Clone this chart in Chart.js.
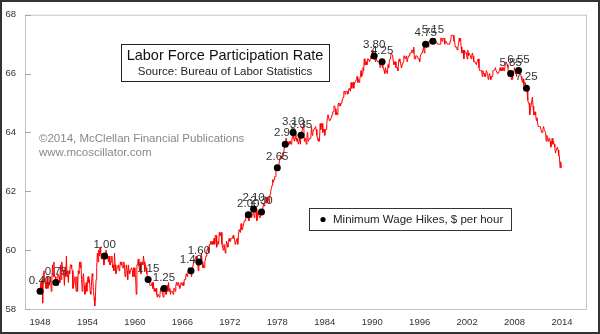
<!DOCTYPE html>
<html>
<head>
<meta charset="utf-8">
<script src="https://cdn.jsdelivr.net/npm/chart.js@4.4.0/dist/chart.umd.min.js"></script>
<style>
  html, body { margin: 0; padding: 0; background: #fff; }
</style>
</head>
<body>
<canvas id="lfprChart" width="600" height="334"></canvas>
<script>
// civilian labor force participation rate, monthly, Jan 1948 - Dec 2013
const startYear = 1948;
const lfpr = [
  58.6,58.9,58.5,59.0,58.2,59.2,59.3,58.9,58.9,58.7,58.7,59.1, // 1948
  58.7,58.9,58.8,58.8,59.1,58.6,59.0,59.5,59.1,59.6,59.1,59.1, // 1949
  58.9,58.9,58.8,59.2,59.1,59.1,58.9,59.5,59.0,59.6,59.4,59.3, // 1950
  59.2,58.8,59.4,59.1,59.8,59.1,59.3,58.9,59.3,59.2,59.5,59.5, // 1951
  59.4,59.3,58.7,58.8,59.0,59.1,58.8,58.6,59.1,58.6,59.3,59.2, // 1952
  59.6,59.4,59.6,59.0,58.6,59.1,59.2,58.8,58.5,58.6,58.9,58.6, // 1953
  59.0,59.1,58.9,59.0,58.6,58.5,58.8,59.2,59.1,58.6,58.4,58.1, // 1954
  58.4,59.0,59.4,59.9,59.6,60.0,59.8,60.1,59.9,59.7,59.9,59.8, // 1955
  59.7,59.5,59.8,59.7,60.0,59.9,59.8,59.7,59.6,59.8,59.5,59.6, // 1956
  59.6,59.8,59.4,59.5,59.3,59.9,59.5,59.2,59.3,59.4,59.4,59.5, // 1957
  59.3,59.4,59.6,59.5,59.6,59.4,59.4,59.6,59.5,59.1,59.2,59.5, // 1958
  59.3,59.0,59.5,59.3,59.2,59.3,59.3,59.4,59.3,59.1,59.4,59.4, // 1959
  59.1,59.1,58.5,59.5,59.5,59.7,59.5,59.3,59.6,59.2,59.5,59.6, // 1960
  59.5,59.8,59.6,59.3,59.5,59.4,59.2,59.1,59.0,59.0,58.9,58.8, // 1961
  58.8,58.8,58.9,58.7,58.9,58.6,58.7,58.6,58.7,58.5,58.4,58.5, // 1962
  58.5,58.4,58.5,58.7,58.7,58.7,58.5,58.4,58.7,58.6,58.8,58.5, // 1963
  58.5,58.8,58.6,58.9,58.6,58.7,58.5,58.6,58.6,58.6,58.5,58.7, // 1964
  58.7,58.6,58.8,58.9,58.8,58.9,58.9,58.8,58.7,58.8,58.9,58.9, // 1965
  58.8,58.9,58.8,59.0,59.0,59.1,59.2,59.1,59.2,59.3,59.4,59.3, // 1966
  59.3,59.3,59.1,59.3,59.3,59.6,59.6,59.7,59.7,59.8,59.6,59.7, // 1967
  59.3,59.6,59.6,59.7,59.8,59.9,59.6,59.4,59.5,59.4,59.6,59.7, // 1968
  59.8,60.0,60.0,60.1,59.9,60.2,60.2,60.3,60.2,60.3,60.2,60.2, // 1969
  60.4,60.2,60.5,60.5,60.1,60.2,60.3,60.2,60.6,60.5,60.5,60.6, // 1970
  60.2,60.1,60.0,60.2,60.1,59.9,60.1,60.3,60.2,60.1,60.3,60.4, // 1971
  60.3,60.3,60.4,60.4,60.4,60.5,60.4,60.4,60.2,60.3,60.3,60.4, // 1972
  60.2,60.5,60.7,60.7,60.6,60.9,60.7,60.7,60.8,60.8,61.0,61.0, // 1973
  61.1,61.2,61.1,61.1,61.2,61.0,61.3,61.2,61.3,61.1,61.2,61.3, // 1974
  61.4,61.1,61.2,61.3,61.4,61.0,61.2,61.3,61.2,61.1,61.1,61.1, // 1975
  61.3,61.2,61.2,61.6,61.5,61.6,61.8,61.8,61.6,61.6,61.8,61.8, // 1976
  61.6,61.9,62.0,62.1,62.2,62.4,62.3,62.4,62.5,62.5,62.8,62.8, // 1977
  62.8,62.7,62.8,63.0,63.0,63.2,63.2,63.1,63.3,63.3,63.4,63.5, // 1978
  63.6,63.8,63.8,63.5,63.5,63.6,63.7,63.6,63.7,63.6,63.7,63.9, // 1979
  64.0,63.8,63.7,63.8,64.0,63.7,63.8,63.7,63.6,63.7,63.8,63.6, // 1980
  63.9,63.9,64.1,64.2,64.3,63.7,63.8,63.8,63.6,63.9,64.0,63.7, // 1981
  63.7,63.8,63.8,63.9,64.2,63.9,64.0,64.1,64.1,64.1,64.2,64.1, // 1982
  63.9,63.8,63.7,63.8,63.7,64.3,64.1,64.3,64.3,64.0,64.1,64.1, // 1983
  63.9,64.1,64.1,64.3,64.5,64.6,64.6,64.4,64.4,64.4,64.5,64.6, // 1984
  64.7,64.7,64.9,64.9,64.8,64.6,64.7,64.6,64.9,65.0,64.9,65.0, // 1985
  64.9,65.0,65.1,65.1,65.2,65.4,65.4,65.3,65.4,65.4,65.4,65.3, // 1986
  65.4,65.5,65.5,65.4,65.7,65.5,65.6,65.7,65.5,65.7,65.7,65.7, // 1987
  65.8,65.9,65.7,65.8,65.7,65.8,65.9,66.1,65.9,66.0,66.2,66.1, // 1988
  66.5,66.3,66.3,66.4,66.3,66.5,66.5,66.5,66.4,66.5,66.6,66.5, // 1989
  66.8,66.7,66.7,66.6,66.6,66.4,66.5,66.5,66.4,66.4,66.4,66.4, // 1990
  66.2,66.2,66.3,66.4,66.2,66.2,66.1,66.0,66.2,66.1,66.1,66.0, // 1991
  66.3,66.2,66.4,66.5,66.6,66.7,66.7,66.6,66.4,66.3,66.4,66.4, // 1992
  66.2,66.2,66.2,66.1,66.4,66.5,66.4,66.4,66.2,66.3,66.3,66.4, // 1993
  66.6,66.6,66.5,66.5,66.6,66.4,66.4,66.6,66.6,66.7,66.7,66.7, // 1994
  66.8,66.8,66.7,66.9,66.5,66.5,66.6,66.6,66.6,66.6,66.5,66.5, // 1995
  66.4,66.6,66.6,66.7,66.7,66.7,66.9,66.7,66.9,67.0,66.9,67.0, // 1996
  67.0,66.9,67.1,67.1,67.1,67.1,67.2,67.1,67.1,67.1,67.1,67.2, // 1997
  67.1,67.1,67.1,67.0,67.0,67.0,67.0,67.0,67.2,67.2,67.1,67.2, // 1998
  67.2,67.2,67.0,67.1,67.1,67.1,67.0,67.0,67.0,67.0,67.1,67.1, // 1999
  67.3,67.3,67.3,67.3,67.1,67.1,66.9,66.9,66.9,66.8,66.9,67.0, // 2000
  67.2,67.1,67.2,66.9,66.7,66.7,66.8,66.5,66.8,66.7,66.7,66.7, // 2001
  66.5,66.8,66.6,66.7,66.7,66.6,66.5,66.6,66.7,66.6,66.4,66.4, // 2002
  66.4,66.4,66.3,66.4,66.4,66.5,66.2,66.1,66.1,66.1,66.1,65.9, // 2003
  66.1,66.0,66.0,65.9,65.9,66.1,66.1,66.0,65.8,65.9,66.0,65.9, // 2004
  65.8,65.9,65.9,66.1,66.1,66.1,66.1,66.2,66.1,66.1,66.0,66.0, // 2005
  66.0,66.1,66.2,66.1,66.1,66.2,66.1,66.2,66.1,66.2,66.3,66.4, // 2006
  66.4,66.3,66.2,65.9,66.0,66.0,66.0,65.8,66.0,65.8,66.0,66.0, // 2007
  66.2,66.0,66.1,65.9,66.1,66.1,66.1,66.1,66.0,66.0,65.9,65.8, // 2008
  65.7,65.8,65.6,65.7,65.7,65.7,65.5,65.4,65.1,65.0,65.0,64.6, // 2009
  64.8,64.9,64.9,65.2,64.9,64.6,64.6,64.7,64.6,64.4,64.5,64.3, // 2010
  64.2,64.2,64.2,64.2,64.2,64.0,64.0,64.1,64.2,64.1,64.1,64.0, // 2011
  63.7,63.9,63.8,63.7,63.8,63.8,63.7,63.5,63.6,63.8,63.6,63.7, // 2012
  63.6,63.5,63.3,63.4,63.4,63.5,63.4,63.2,63.2,62.8,63.0,62.8  // 2013
];

// minimum wage hikes: year, month (1-12), new rate
const hikeYears  = [1948, 1950, 1956, 1961, 1963, 1967, 1968, 1974, 1975, 1976, 1978, 1979, 1980, 1981, 1990, 1991, 1996, 1997, 2007, 2008, 2009];
const hikeMonths = [1, 1, 3, 9, 9, 2, 2, 5, 1, 1, 1, 1, 1, 1, 4, 4, 10, 9, 7, 7, 7];
const hikeRates  = ["0.40", "0.75", "1.00", "1.15", "1.25", "1.40", "1.60", "2.00", "2.10", "2.30", "2.65", "2.90", "3.10", "3.35", "3.80", "4.25", "4.75", "5.15", "5.85", "6.55", "7.25"];

const yearTicks = [1948, 1954, 1960, 1966, 1972, 1978, 1984, 1990, 1996, 2002, 2008, 2014];
const yTicks = [58, 60, 62, 64, 66, 68];

const FONT = '"Liberation Sans", Arial, sans-serif';

const linePoints = lfpr.map((v, i) => ({ x: startYear + i / 12, y: v }));
const hikePoints = hikeYears.map((yr, i) => {
  const idx = (yr - startYear) * 12 + hikeMonths[i] - 1;
  return { x: yr + (hikeMonths[i] - 1) / 12, y: lfpr[idx] };
});

const decor = {
  id: "decor",
  beforeDraw(chart) {
    const ctx = chart.ctx;
    const a = chart.chartArea;
    const y = chart.scales.y;
    ctx.save();
    ctx.fillStyle = "#fff";
    ctx.fillRect(0, 0, chart.width, chart.height);
    // plot frame
    ctx.strokeStyle = "#c4c4c4";
    ctx.lineWidth = 1;
    ctx.strokeRect(a.left + 0.5, a.top + 0.5, a.right - a.left, a.bottom - a.top);
    // little tick marks inside the left axis
    ctx.strokeStyle = "#a8a8a8";
    yTicks.forEach(v => {
      const py = Math.round(y.getPixelForValue(v)) + 0.5;
      ctx.beginPath();
      ctx.moveTo(a.left, py);
      ctx.lineTo(a.left + 6, py);
      ctx.stroke();
    });
    ctx.restore();
  },
  afterDatasetDraw(chart, args) {
    // rate labels go over the red line but under the dots
    if (args.index !== 1) return;
    const ctx = chart.ctx;
    const pts = chart.getDatasetMeta(0).data;
    ctx.save();
    ctx.font = "11.5px " + FONT;
    ctx.fillStyle = "#333";
    ctx.textAlign = "center";
    ctx.textBaseline = "middle";
    pts.forEach((p, i) => ctx.fillText(hikeRates[i], p.x, p.y - 11));
    ctx.restore();
  },
  afterDraw(chart) {
    const ctx = chart.ctx;
    ctx.save();
    // title box
    ctx.fillStyle = "#fff";
    ctx.fillRect(121, 44, 208, 37);
    ctx.strokeStyle = "#222";
    ctx.lineWidth = 1;
    ctx.strokeRect(121.5, 44.5, 208, 37);
    ctx.textAlign = "center";
    ctx.textBaseline = "middle";
    ctx.fillStyle = "#111";
    ctx.font = "14.5px " + FONT;
    ctx.fillText("Labor Force Participation Rate", 225, 56);
    ctx.fillStyle = "#222";
    ctx.font = "11.5px " + FONT;
    ctx.fillText("Source: Bureau of Labor Statistics", 225, 72);

    // copyright
    ctx.textAlign = "left";
    ctx.fillStyle = "#888";
    ctx.fillText("\u00a92014, McClellan Financial Publications", 39, 139);
    ctx.fillText("www.mcoscillator.com", 39, 153);

    // legend box
    ctx.strokeStyle = "#333";
    ctx.strokeRect(309.5, 208.5, 202, 22);
    ctx.fillStyle = "#000";
    ctx.beginPath();
    ctx.arc(323, 219.5, 2.6, 0, Math.PI * 2);
    ctx.fill();
    ctx.fillStyle = "#222";
    ctx.fillText("Minimum Wage Hikes, $ per hour", 333, 219.5);

    // outer frame
    ctx.strokeStyle = "#333";
    ctx.lineWidth = 2;
    ctx.strokeRect(1, 1, chart.width - 2, chart.height - 2);
    ctx.restore();
  }
};

const ctx = document.getElementById("lfprChart").getContext("2d");
const lfprChart = new Chart(ctx, {
  type: "line",
  data: {
    datasets: [
      {
        type: "scatter",
        label: "Minimum Wage Hikes, $ per hour",
        data: hikePoints,
        pointRadius: 3.5,
        pointBackgroundColor: "#000",
        pointBorderWidth: 0,
        showLine: false
      },
      {
        label: "Labor Force Participation Rate",
        data: linePoints,
        borderColor: "#ff0000",
        borderWidth: 1,
        pointRadius: 0,
        tension: 0,
        fill: false
      }
    ]
  },
  options: {
    responsive: false,
    animation: false,
    devicePixelRatio: 1,
    layout: { padding: { left: 0, right: 14, top: 12, bottom: 0 } },
    plugins: {
      legend: { display: false },
      tooltip: { enabled: false }
    },
    scales: {
      x: {
        type: "linear",
        min: 1946.1,
        max: 2017.03,
        afterBuildTicks: s => { s.ticks = yearTicks.map(v => ({ value: v })); },
        afterFit: s => { s.height = 25; },
        grid: { display: false, drawTicks: false },
        border: { display: false },
        ticks: {
          padding: 8,
          maxRotation: 0,
          autoSkip: false,
          color: "#333",
          font: { family: FONT, size: 9.5 },
          callback: v => String(v)
        }
      },
      y: {
        min: 58,
        max: 68,
        afterBuildTicks: s => { s.ticks = yTicks.map(v => ({ value: v })); },
        afterFit: s => { s.width = 25; },
        grid: { display: false, drawTicks: false },
        border: { display: false },
        ticks: {
          padding: 9,
          color: "#333",
          font: { family: FONT, size: 9.5 },
          callback: v => String(v)
        }
      }
    }
  },
  plugins: [decor]
});
</script>
</body>
</html>
